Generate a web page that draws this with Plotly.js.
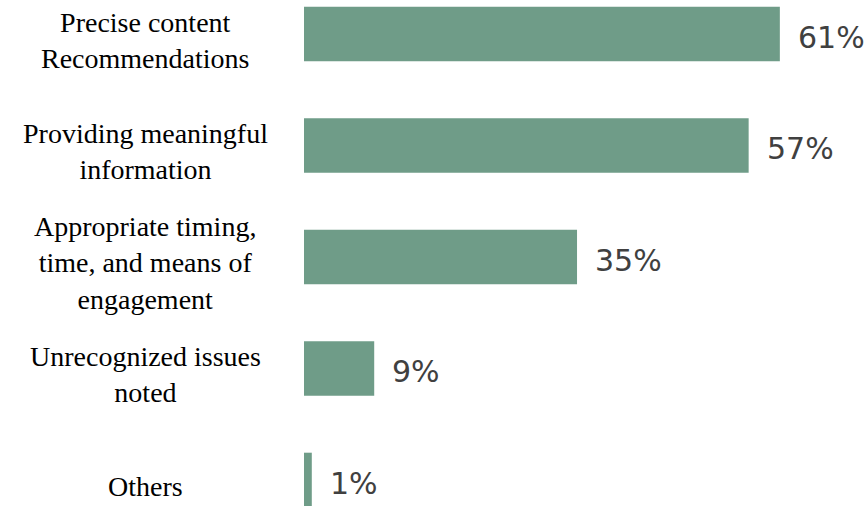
<!DOCTYPE html>
<html>
<head>
<meta charset="utf-8">
<script src="https://cdn.plot.ly/plotly-3.0.1.min.js"></script>
<style>html,body{margin:0;padding:0;background:#fff;}#chart{width:868px;height:506px;}</style>
</head>
<body>
<div id="chart"></div>
<script>
const categories = [
  "Precise content<br>Recommendations",
  "Providing meaningful<br>information",
  "Appropriate timing,<br>time, and means of<br>engagement",
  "Unrecognized issues<br>noted",
  "Others"
];
const values = [61, 57, 35, 9, 1];
const valueLabels = ["61%", "57%", "35%", "9%", "1%"];

const trace = {
  type: "bar",
  orientation: "h",
  x: values,
  y: categories,
  width: 0.49,
  marker: { color: "#6f9c88", line: { width: 0 } },
  hoverinfo: "none"
};

const annotations = [];
categories.forEach((c, i) => {
  annotations.push({
    xref: "paper", yref: "y", x: (145 - 304) / 564, y: c,
    text: c, showarrow: false, xanchor: "center", yanchor: "middle", align: "center",
    yshift: -6,
    font: { family: "'Liberation Serif', 'Times New Roman', serif", size: 28, color: "#000" }
  });
  annotations.push({
    xref: "x", yref: "y", x: values[i], y: c,
    text: valueLabels[i], showarrow: false, xanchor: "left", yanchor: "middle",
    xshift: 16, yshift: -3,
    font: { family: "'DejaVu Sans', Verdana, sans-serif", size: 30, color: "#404040" }
  });
});

const layout = {
  width: 868, height: 506,
  margin: { l: 304, r: 0, t: 0, b: 0, pad: 0 },
  paper_bgcolor: "#ffffff", plot_bgcolor: "#ffffff",
  showlegend: false,
  xaxis: { range: [0, 72.3], visible: false, showgrid: false, zeroline: false, fixedrange: true },
  yaxis: { type: "category", range: [4.233, -0.305], showticklabels: false, showgrid: false, zeroline: false, showline: false, ticks: "", fixedrange: true },
  annotations: annotations
};

Plotly.newPlot("chart", [trace], layout, { staticPlot: true, displayModeBar: false });
</script>
</body>
</html>
